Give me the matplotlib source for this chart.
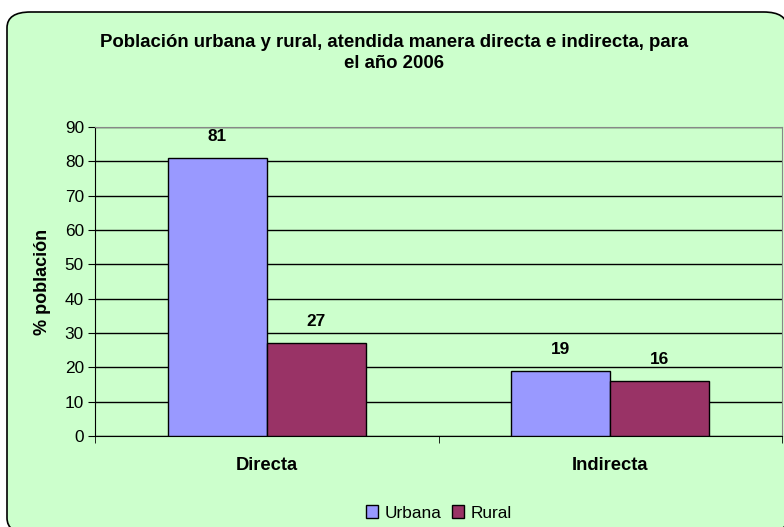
import matplotlib
matplotlib.use('Agg')
import matplotlib.pyplot as plt
from matplotlib.patches import FancyBboxPatch
import numpy as np

plt.rcParams['font.family'] = ['Liberation Sans', 'DejaVu Sans']

categorias = ['Directa', 'Indirecta']
urbana = [81, 19]
rural = [27, 16]
series = ['Urbana', 'Rural']
colores = ['#9999FF', '#993366']
fondo = '#CCFFCC'

fig = plt.figure(figsize=(7.84, 5.27), dpi=100)
fig.patch.set_facecolor('white')

# marco redondeado del grafico
caja = FancyBboxPatch((7 / 784, 1 - 12 / 527 - 0.99), 0.995, 0.99,
                      boxstyle='round,pad=0,rounding_size=0.03',
                      transform=fig.transFigure, facecolor=fondo,
                      edgecolor='black', linewidth=1.2, zorder=-10)
fig.patches.append(caja)

ax = fig.add_axes([95 / 784, 1 - 436 / 527, (782 - 95) / 784, (436 - 127) / 527])
ax.set_facecolor(fondo)

x = np.arange(len(categorias))
ancho = 0.288
b1 = ax.bar(x - ancho / 2, urbana, ancho, color=colores[0], edgecolor='black',
            linewidth=1, label=series[0], zorder=3)
b2 = ax.bar(x + ancho / 2, rural, ancho, color=colores[1], edgecolor='black',
            linewidth=1, label=series[1], zorder=3)
for barras in (b1, b2):
    ax.bar_label(barras, padding=10, fontsize=12.4, fontweight='bold')

ax.set_xlim(-0.5, 1.5)
ax.set_ylim(0, 90)
ax.set_yticks(range(0, 91, 10))
ax.yaxis.grid(True, color='black', linewidth=1)
ax.set_axisbelow(True)
ax.set_xticks(x)
ax.set_xticklabels(categorias, fontsize=13.2, fontweight='bold')
ax.set_xticks([-0.5, 0.5, 1.5], minor=True)
ax.tick_params(axis='x', which='major', length=0, pad=15)
ax.tick_params(axis='x', which='minor', length=5, color='black')
ax.tick_params(axis='y', labelsize=12.4, length=5, pad=3)

for s in ['top', 'right']:
    ax.spines[s].set_color('#888888')
ax.spines['left'].set_color('black')
ax.spines['bottom'].set_color('black')

ax.set_ylabel('% población', fontsize=13, fontweight='bold', labelpad=10)

fig.text(0.502, 1 - 53 / 527,
         'Población urbana y rural, atendida manera directa e indirecta, para\nel año 2006',
         ha='center', va='center', fontsize=13.4, fontweight='bold', linespacing=1.25)

fig.legend(loc='center', bbox_to_anchor=(439 / 784, 1 - 513 / 527), ncol=2,
           frameon=False, fontsize=12.4, handlelength=0.7, handleheight=0.7,
           handletextpad=0.4, columnspacing=0.6)

fig.savefig('out.png', dpi=100, facecolor=fig.get_facecolor())
